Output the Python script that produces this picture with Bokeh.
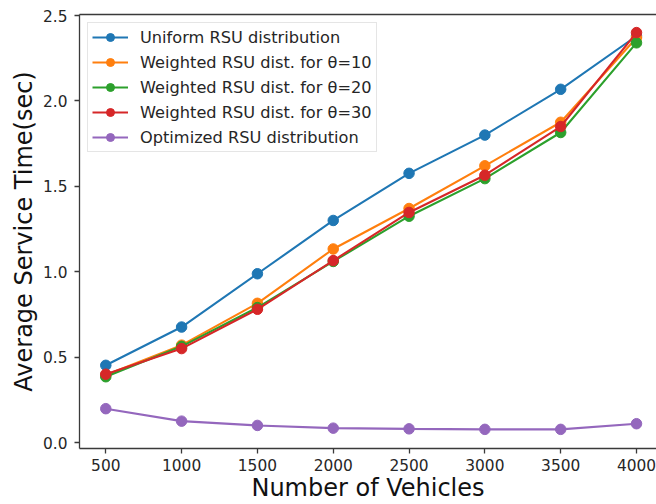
from bokeh.plotting import figure
from bokeh.models import Range1d, FixedTicker, PrintfTickFormatter, LinearAxis
from bokeh.embed import file_html
from bokeh.resources import INLINE

vehicles = [500, 1000, 1500, 2000, 2500, 3000, 3500, 4000]
uniform = [0.452, 0.676, 0.988, 1.300, 1.576, 1.800, 2.068, 2.380]
weighted_10 = [0.395, 0.570, 0.815, 1.133, 1.370, 1.620, 1.875, 2.370]
weighted_20 = [0.385, 0.563, 0.790, 1.060, 1.325, 1.545, 1.815, 2.340]
weighted_30 = [0.400, 0.550, 0.780, 1.065, 1.347, 1.565, 1.850, 2.400]
optimized = [0.198, 0.125, 0.100, 0.084, 0.080, 0.077, 0.077, 0.110]

series_names = [
    "Uniform RSU distribution",
    "Weighted RSU dist. for θ=10",
    "Weighted RSU dist. for θ=20",
    "Weighted RSU dist. for θ=30",
    "Optimized RSU distribution",
]
series_values = [uniform, weighted_10, weighted_20, weighted_30, optimized]
colors = ["#1f77b4", "#ff7f0e", "#2ca02c", "#d62728", "#9467bd"]
x_ticks = [500, 1000, 1500, 2000, 2500, 3000, 3500, 4000]
y_ticks = [0.0, 0.5, 1.0, 1.5, 2.0, 2.5]

FONT = "DejaVu Sans"
SPINE = "#3a3a3a"

p = figure(
    width=656, height=504,
    output_backend="svg", toolbar_location=None,
    x_range=Range1d(326.6, 4131.9), y_range=Range1d(-0.0351, 2.5059),
    min_border_left=79, min_border_top=14, min_border_bottom=56, min_border_right=0,
)
p.background_fill_color = "white"
p.border_fill_color = "white"
p.grid.visible = False
p.outline_line_color = None

for name, vals, col in zip(series_names, series_values, colors):
    p.line(vehicles, vals, line_color=col, line_width=2.1, legend_label=name)
    p.scatter(vehicles, vals, size=10.5, fill_color=col, line_color=col, legend_label=name)

xb = p.below[0]
yl = p.left[0]

top_axis = LinearAxis(ticker=FixedTicker(ticks=[]), axis_line_color=SPINE, axis_line_width=1.3,
                      major_tick_out=0, major_tick_in=0, minor_tick_out=0, minor_tick_in=0,
                      major_label_text_font_size="0px", major_label_standoff=0)
p.add_layout(top_axis, "above")

for ax in (xb, yl):
    ax.axis_line_color = SPINE
    ax.axis_line_width = 1.3
    ax.major_tick_line_color = SPINE
    ax.major_tick_line_width = 1.3
    ax.major_tick_out = 5
    ax.major_tick_in = 0
    ax.minor_tick_line_color = None
    ax.major_label_text_font = FONT
    ax.major_label_text_font_size = "15.4px"
    ax.major_label_text_color = "#262626"
    ax.axis_label_text_font = FONT
    ax.axis_label_text_font_size = "24px"
    ax.axis_label_text_font_style = "normal"
    ax.axis_label_text_color = "#111111"

xb.ticker = FixedTicker(ticks=x_ticks)
yl.ticker = FixedTicker(ticks=y_ticks)
yl.formatter = PrintfTickFormatter(format="%.1f")
xb.major_label_standoff = 5
yl.major_label_standoff = 7
xb.axis_label = "Number of Vehicles"
yl.axis_label = "Average Service Time(sec)"
xb.axis_label_standoff = 0
yl.axis_label_standoff = 2

lg = p.legend[0]
lg.location = "top_left"
lg.margin = 8
lg.padding = 4
lg.spacing = 5
lg.glyph_width = 36
lg.glyph_height = 20
lg.label_height = 20
lg.label_standoff = 12
lg.label_text_font = FONT
lg.label_text_font_size = "16.2px"
lg.label_text_color = "#262626"
lg.border_line_color = "#cccccc"
lg.border_line_width = 1
lg.background_fill_color = "white"
lg.background_fill_alpha = 0.8

open("out.html", "w").write(file_html(p, INLINE))
